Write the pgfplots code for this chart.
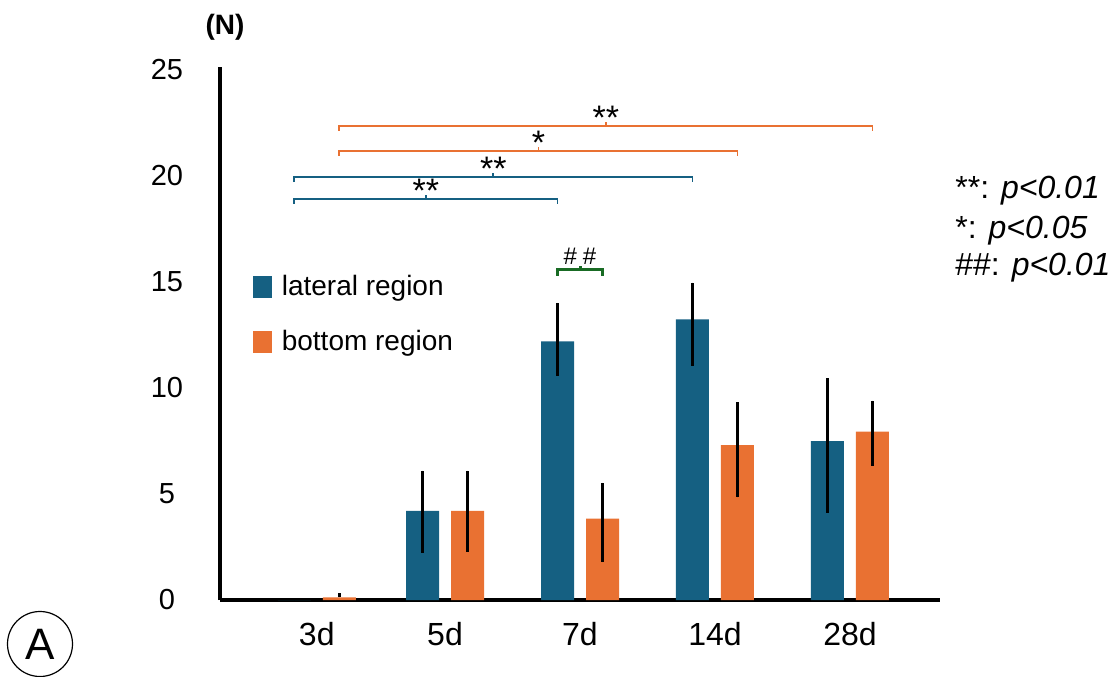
\documentclass[border=0pt]{standalone}
\usepackage{fontspec}
\setmainfont{Liberation Sans}
\usepackage{pgfplots}
\pgfplotsset{compat=1.18}
\usepackage{pgfplotstable}
\definecolor{cblue}{HTML}{156082}
\definecolor{corange}{HTML}{E97132}
\definecolor{cgreen}{HTML}{196B24}

\pgfplotstableread{
x lat latp latm bot botp botm
0.05 0 0 0 0.12 0.21 0
1 4.2 1.9 1.97 4.2 1.9 1.92
2 12.2 1.82 1.63 3.84 1.68 2.05
3 13.24 1.73 2.2 7.3 2.03 2.46
4 7.49 2.97 3.37 7.94 1.46 1.6
}\datatable

\newcommand\sigbracket[6]{%
  \draw[#5, line width=0.9pt] ([yshift=-2.5pt]axis cs:#1,#4) -- (axis cs:#1,#4) -- (axis cs:#2,#4) -- ([yshift=-2.5pt]axis cs:#2,#4);
  \draw[#5, line width=0.9pt] (axis cs:#3,#4) -- ([yshift=2pt]axis cs:#3,#4);
  \node[anchor=base, yshift=-1.8pt, font=\fontsize{17}{19}\selectfont, inner sep=0pt] at (axis cs:#3,#4) {#6};
}

\begin{document}
\begin{tikzpicture}
\path[use as bounding box] (0,0) rectangle (554pt,338pt);
\begin{axis}[
  at={(110pt,38pt)}, anchor=south west,
  scale only axis, width=360pt, height=266.5pt,
  xmin=-0.667, xmax=4.667, ymin=0, ymax=25.14,
  axis x line=bottom, axis y line=left,
  axis line style={-, line width=1.6pt, black},
  ybar=6pt, bar width=16.5pt,
  xtick={0.05,1,2,3,4}, xticklabels={3d,5d,7d,14d,28d},
  ytick={0,5,10,15,20,25},
  major tick length=0pt,
  /pgf/number format/assume math mode=true,
  xticklabel style={anchor=center, yshift=-17pt, font=\fontsize{16}{18}\selectfont},
  yticklabel style={anchor=center, xshift=-26.5pt, font=\fontsize{14.5}{17}\selectfont},
  legend style={at={(rel axis cs:0.045,0.6175)}, anchor=north west, draw=none, fill=none,
    font=\fontsize{14}{16}\selectfont, row sep=12pt, column sep=3pt, inner sep=0pt},
  legend cell align=left,
  clip=false,
]
\addplot[fill=cblue, draw=none,
  legend image code/.code={\fill[cblue] (0pt,-5.5pt) rectangle (9.5pt,5.5pt);},
  error bars/.cd, y dir=both, y explicit, error mark=none,
  error bar style={line width=1.5pt, black}]
  table[x=x, y=lat, y error plus=latp, y error minus=latm] {\datatable};
\addlegendentry{lateral region}
\addplot[fill=corange, draw=none,
  legend image code/.code={\fill[corange] (0pt,-5.5pt) rectangle (9.5pt,5.5pt);},
  error bars/.cd, y dir=both, y explicit, error mark=none,
  error bar style={line width=1.5pt, black}]
  table[x=x, y=bot, y error plus=botp, y error minus=botm] {\datatable};
\addlegendentry{bottom region}

\sigbracket{-0.117}{1.833}{0.858}{18.92}{cblue}{**}
\sigbracket{-0.117}{2.833}{1.358}{19.95}{cblue}{**}
\sigbracket{0.217}{3.167}{1.692}{21.18}{corange}{*}
\sigbracket{0.217}{4.167}{2.192}{22.36}{corange}{**}
\draw[cgreen, line width=1.5pt] ([yshift=-3pt]axis cs:1.833,15.57) -- (axis cs:1.833,15.57) -- (axis cs:2.167,15.57) -- ([yshift=-3pt]axis cs:2.167,15.57);
\draw[cgreen, line width=1.5pt] (axis cs:2,15.57) -- ([yshift=2pt]axis cs:2,15.57);
\node[anchor=base, inner sep=0pt, font=\rmfamily\fontsize{12}{13}\selectfont, yshift=2.5pt] at (axis cs:2,15.57) {\#\hspace{3pt}\#};
\end{axis}

\node[font=\bfseries\fontsize{14}{16}\selectfont] at (112.5pt,324.5pt) {(N)};
\node[anchor=west, font=\fontsize{16}{18}\selectfont, inner sep=0pt] at (477.5pt,242.5pt) {**: \textit{p<0.01}};
\node[anchor=west, font=\fontsize{16}{18}\selectfont, inner sep=0pt] at (477.5pt,222.5pt) {*: \textit{p<0.05}};
\node[anchor=west, font=\fontsize{16}{18}\selectfont, inner sep=0pt] at (477.5pt,204pt) {\#\#: \textit{p<0.01}};
\draw[line width=0.6pt] (20pt,16pt) circle (16.25pt);
\node[font=\fontsize{22}{24}\selectfont] at (20pt,16pt) {A};
\end{tikzpicture}
\end{document}
